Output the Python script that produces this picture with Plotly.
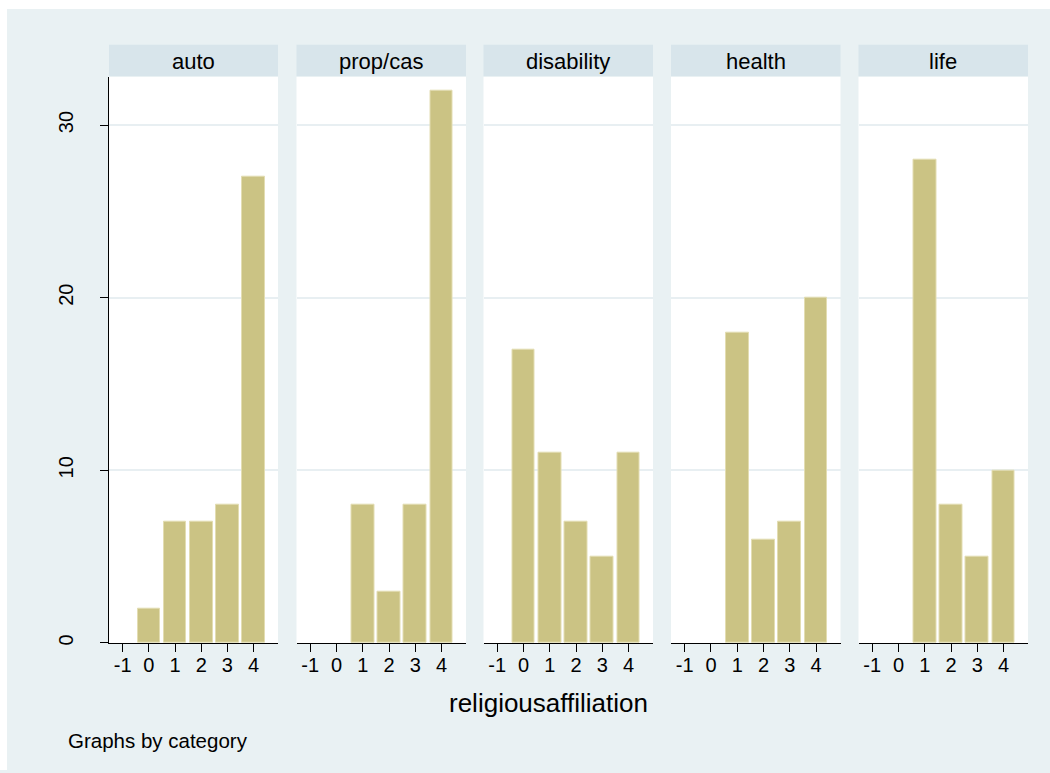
import plotly.graph_objects as go

categories = ["auto", "prop/cas", "disability", "health", "life"]
x_values = [-1, 0, 1, 2, 3, 4]
counts = {
    "auto": [0, 2, 7, 7, 8, 27],
    "prop/cas": [0, 0, 8, 3, 8, 32],
    "disability": [0, 17, 11, 7, 5, 11],
    "health": [0, 0, 18, 6, 7, 20],
    "life": [0, 0, 28, 8, 5, 10],
}
y_ticks = [0, 10, 20, 30]
x_title = "religiousaffiliation"
note = "Graphs by category"

W, H = 1050, 773
panel_px = [(109, 278), (296.5, 466), (483.5, 653), (671, 840.5), (858.5, 1028)]
y_bottom_px, y_top_px = 645.5, 77
strip_top_px, strip_bot_px = 45, 76.5

BG = "#E9F1F3"
STRIP = "#D8E5EB"
BAR = "#CBC384"
BAR_LINE = "#E3DDB2"
FONT = "Arial, Liberation Sans, sans-serif"

def px_x(v):
    return v / W

def px_y(v):
    return (H - v) / H

fig = go.Figure()
layout = dict(
    width=W, height=H,
    margin=dict(l=0, r=0, t=0, b=0),
    paper_bgcolor=BG, plot_bgcolor="white",
    showlegend=False, bargap=0,
    font=dict(family=FONT, color="black"),
)
shapes = [
    dict(type="rect", xref="paper", yref="paper", x0=0, x1=px_x(7), y0=0, y1=1,
         fillcolor="white", line=dict(width=0), layer="below"),
    dict(type="rect", xref="paper", yref="paper", x0=0, x1=1, y0=px_y(9), y1=1,
         fillcolor="white", line=dict(width=0), layer="below"),
]
annotations = []

for i, cat in enumerate(categories):
    n = i + 1
    xa = "x" if n == 1 else f"x{n}"
    ya = "y" if n == 1 else f"y{n}"
    vals = counts[cat]
    fig.add_trace(go.Bar(
        x=x_values, y=vals, width=0.86,
        marker=dict(color=BAR, line=dict(color=BAR_LINE,
                                         width=[0 if v == 0 else 1 for v in vals])),
        xaxis=xa, yaxis=ya, hoverinfo="x+y",
    ))
    x0, x1 = panel_px[i]
    layout["xaxis" if n == 1 else f"xaxis{n}"] = dict(
        domain=[px_x(x0), px_x(x1)], anchor=ya,
        range=[-1.52, 4.93], tickvals=x_values, ticktext=[str(v) for v in x_values],
        ticks="outside", ticklen=8, tickcolor="black", tickwidth=1,
        showline=True, linecolor="black", linewidth=1,
        showgrid=False, zeroline=False, ticklabelstandoff=-4,
        tickfont=dict(size=20, family=FONT, color="black"),
    )
    layout["yaxis" if n == 1 else f"yaxis{n}"] = dict(
        domain=[px_y(y_bottom_px), px_y(y_top_px)], anchor=xa,
        range=[0, 32.8], tickvals=y_ticks, ticktext=[str(v) for v in y_ticks],
        showgrid=True, gridcolor="#E8EFF2", gridwidth=1.5, zeroline=False,
        showline=(n == 1), linecolor="black", linewidth=1,
        ticks="outside" if n == 1 else "", ticklen=8, tickcolor="black",
        showticklabels=(n == 1), tickangle=-90, ticklabelstandoff=19,
        tickfont=dict(size=20, family=FONT, color="black"),
    )
    shapes.append(dict(
        type="rect", xref="paper", yref="paper",
        x0=px_x(x0), x1=px_x(x1), y0=px_y(strip_bot_px), y1=px_y(strip_top_px),
        fillcolor=STRIP, line=dict(width=0),
    ))
    annotations.append(dict(
        text=cat, xref="paper", yref="paper",
        x=px_x((x0 + x1) / 2), y=px_y((strip_top_px + strip_bot_px) / 2 + 1),
        xanchor="center", yanchor="middle", showarrow=False,
        font=dict(size=22, family=FONT, color="black"),
    ))

annotations.append(dict(
    text=x_title, xref="paper", yref="paper", x=px_x(548), y=px_y(706),
    xanchor="center", yanchor="middle", showarrow=False,
    font=dict(size=26, family=FONT, color="black"),
))
annotations.append(dict(
    text=note, xref="paper", yref="paper", x=px_x(66), y=px_y(743),
    xanchor="left", yanchor="middle", showarrow=False,
    font=dict(size=20.5, family=FONT, color="black"),
))

layout["shapes"] = shapes
layout["annotations"] = annotations
fig.update_layout(**layout)

post_js = (
    "document.documentElement.style.margin='0';"
    "document.body.style.margin='0';"
    "document.body.style.overflow='hidden';"
)
fig.write_html("out.html", post_script=post_js, config={"displayModeBar": False})
